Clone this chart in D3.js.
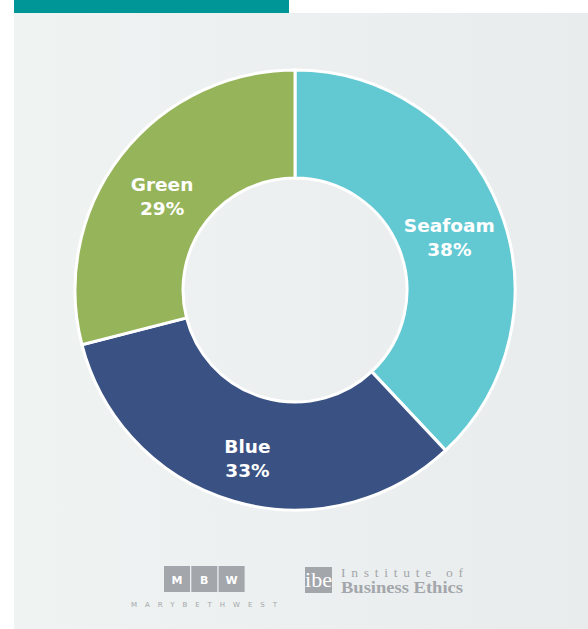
<!DOCTYPE html>
<html>
<head>
<meta charset="utf-8">
<script src="https://cdn.jsdelivr.net/npm/d3@7/dist/d3.min.js"></script>
<style>
html,body{margin:0;padding:0;background:#fff;}
svg{display:block;}
</style>
</head>
<body>
<svg id="chart" width="588" height="629"></svg>
<script>
const categories = ["Seafoam", "Blue", "Green"];
const values = [38, 33, 29];
const labels = ["38%", "33%", "29%"];
const colors = ["#62c9d3", "#3a5283", "#96b45a"];

const W = 588, H = 629;
const svg = d3.select("#chart");

// background panel with gradient
const defs = svg.append("defs");
const grad = defs.append("linearGradient").attr("id", "bg").attr("x1", "0").attr("x2", "1").attr("y1", "0").attr("y2", "0");
grad.append("stop").attr("offset", "0").attr("stop-color", "#eff3f2");
grad.append("stop").attr("offset", "1").attr("stop-color", "#e9eced");
svg.append("rect").attr("x", 14).attr("y", 13).attr("width", W - 14).attr("height", H - 13).attr("fill", "url(#bg)");
svg.append("rect").attr("x", 14).attr("y", 0).attr("width", 275).attr("height", 13).attr("fill", "#009597");

const cx = 295, cy = 290, rOuter = 220, rInner = 112;
const data = categories.map((c, i) => ({ name: c, value: values[i], label: labels[i], color: colors[i] }));
const pie = d3.pie().value(d => d.value).sort(null);
const arc = d3.arc().innerRadius(rInner).outerRadius(rOuter);
const labelArc = d3.arc().innerRadius(112).outerRadius(222);
const arcs = pie(data);

const g = svg.append("g").attr("transform", `translate(${cx},${cy})`);
g.selectAll("path.slice").data(arcs).join("path")
  .attr("class", "slice")
  .attr("d", arc)
  .attr("fill", d => d.data.color)
  .attr("stroke", "#ffffff")
  .attr("stroke-width", 3)
  .attr("stroke-linejoin", "miter");

const lab = g.selectAll("text.lab").data(arcs).join("text")
  .attr("class", "lab")
  .attr("transform", d => { const c = labelArc.centroid(d); return `translate(${c[0] - 1},${c[1] + 8})`; })
  .attr("text-anchor", "middle")
  .attr("fill", "#ffffff")
  .attr("font-family", "'DejaVu Sans', sans-serif")
  .attr("font-weight", "bold")
  .attr("font-size", 18.5);
lab.append("tspan").attr("x", 0).attr("y", -5).text(d => d.data.name);
lab.append("tspan").attr("x", 0).attr("y", 19).text(d => d.data.label);

// logos
const grey = "#a3a6ab";
const mbw = svg.append("g");
["M", "B", "W"].forEach((l, i) => {
  const x = 164 + i * 27.3;
  mbw.append("rect").attr("x", x).attr("y", 566).attr("width", 26).attr("height", 26).attr("fill", grey);
  mbw.append("text").attr("x", x + 13).attr("y", 583.5).attr("text-anchor", "middle")
    .attr("fill", "#fff").attr("font-family", "'DejaVu Sans', sans-serif").attr("font-weight", "bold").attr("font-size", 11).text(l);
});
mbw.append("text").attr("x", 131).attr("y", 606.5).attr("textLength", 146).attr("lengthAdjust", "spacing")
  .attr("fill", grey).attr("font-family", "'DejaVu Sans', sans-serif").attr("font-size", 7).text("MARYBETHWEST");

const ibe = svg.append("g");
ibe.append("rect").attr("x", 305).attr("y", 567).attr("width", 27).attr("height", 26).attr("fill", grey);
ibe.append("text").attr("x", 318.5).attr("y", 587).attr("text-anchor", "middle").attr("textLength", 27).attr("lengthAdjust", "spacingAndGlyphs")
  .attr("fill", "#fff").attr("font-family", "'Liberation Serif', serif").attr("font-size", 21).text("ibe");
ibe.append("text").attr("x", 341).attr("y", 577).attr("textLength", 122).attr("lengthAdjust", "spacing")
  .attr("fill", grey).attr("font-family", "'Liberation Serif', serif").attr("font-size", 13.5).text("Institute of");
ibe.append("text").attr("x", 341).attr("y", 593).attr("textLength", 122).attr("lengthAdjust", "spacingAndGlyphs")
  .attr("fill", grey).attr("font-family", "'Liberation Serif', serif").attr("font-weight", "bold").attr("font-size", 16).text("Business Ethics");
</script>
</body>
</html>
